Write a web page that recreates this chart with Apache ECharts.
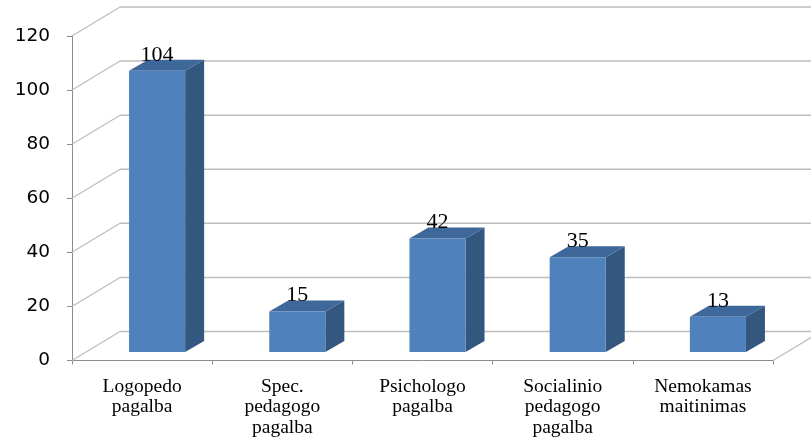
<!DOCTYPE html>
<html>
<head>
<meta charset="utf-8">
<script src="https://cdn.jsdelivr.net/npm/echarts@6/dist/echarts.min.js"></script>
<style>
html,body{margin:0;padding:0;background:#fff;}
#chart{width:811px;height:438px;}
</style>
</head>
<body>
<div id="chart"></div>
<script>
const categories = ["Logopedo\npagalba", "Spec.\npedagogo\npagalba", "Psichologo\npagalba", "Socialinio\npedagogo\npagalba", "Nemokamas\nmaitinimas"];
const values = [104, 15, 42, 35, 13];
const yTicks = [0, 20, 40, 60, 80, 100, 120];

const FRONT = '#4F81BD', SIDE = '#34577F', TOP = '#3E679A';
const GRID = '#BDBDBD';
const DEPTH_X = 48, DEPTH_Y = -29;

const chart = echarts.init(document.getElementById('chart'));

function renderWall(params, api) {
  const cs = params.coordSys;
  const v = api.value(1);
  const y = api.coord([0, v])[1];
  const x0 = cs.x;
  const children = [
    {type: 'line', shape: {x1: x0, y1: y, x2: x0 + DEPTH_X, y2: y + DEPTH_Y}, style: {stroke: GRID, lineWidth: 1.2}},
    {type: 'line', shape: {x1: x0 + DEPTH_X, y1: y + DEPTH_Y, x2: x0 + cs.width + DEPTH_X + 40, y2: y + DEPTH_Y}, style: {stroke: GRID, lineWidth: 1.5}}
  ];
  if (v === 0) {
    const xr = cs.x + cs.width;
    children.push({type: 'line', shape: {x1: xr, y1: y, x2: xr + DEPTH_X, y2: y + DEPTH_Y}, style: {stroke: GRID, lineWidth: 1.2}});
  }
  return {type: 'group', children: children};
}

function renderBar(params, api) {
  const i = api.value(0), v = api.value(1);
  const base = api.coord([i, 0]);
  const top = api.coord([i, v]);
  const bw = api.size([1, 0])[0];
  const w = bw * 0.4;
  const dx0 = 15, dy0 = -8.5;
  const ddx = 19, ddy = -11;
  const x0 = base[0] + dx0 - w / 2, x1 = x0 + w;
  const yb = base[1] + dy0, yt = top[1] + dy0;
  return {
    type: 'group',
    children: [
      {type: 'polygon', shape: {points: [[x1, yt], [x1 + ddx, yt + ddy], [x1 + ddx, yb + ddy], [x1, yb]]}, style: {fill: SIDE}},
      {type: 'polygon', shape: {points: [[x0, yt], [x0 + ddx, yt + ddy], [x1 + ddx, yt + ddy], [x1, yt]]}, style: {fill: TOP}},
      {type: 'rect', shape: {x: x0, y: yt, width: w, height: yb - yt}, style: {fill: FRONT}},
      {type: 'text', x: (x0 + x1) / 2, y: yt - 16, style: {text: String(v), align: 'center', verticalAlign: 'middle', fontFamily: 'Liberation Serif', fontSize: 22, fill: '#000'}}
    ]
  };
}

chart.setOption({
  animation: false,
  backgroundColor: '#fff',
  grid: {left: 72, right: 38, top: 36, bottom: 76.5, containLabel: false},
  xAxis: {
    type: 'category',
    data: categories,
    boundaryGap: true,
    axisLine: {show: true, lineStyle: {color: '#8C8C8C', width: 1}},
    axisTick: {show: true, length: 4, lineStyle: {color: '#8C8C8C'}},
    axisLabel: {interval: 0, margin: 16, color: '#000', fontFamily: 'Liberation Serif', fontSize: 19.5, lineHeight: 20.5, verticalAlign: 'top'},
    splitLine: {show: false}
  },
  yAxis: {
    type: 'value',
    min: 0, max: 120, interval: 20,
    axisLine: {show: true, lineStyle: {color: '#8C8C8C', width: 1}},
    axisTick: {show: true, length: 5, lineStyle: {color: '#8C8C8C'}},
    axisLabel: {margin: 22, color: '#000', fontFamily: 'DejaVu Sans', fontSize: 18.5},
    splitLine: {show: false}
  },
  series: [
    {type: 'custom', renderItem: renderWall, data: yTicks.map(v => [0, v]), z: 1, silent: true, clip: false},
    {type: 'custom', renderItem: renderBar, data: values.map((v, i) => [i, v]), encode: {x: 0, y: 1}, z: 3, clip: false}
  ]
});
</script>
</body>
</html>
